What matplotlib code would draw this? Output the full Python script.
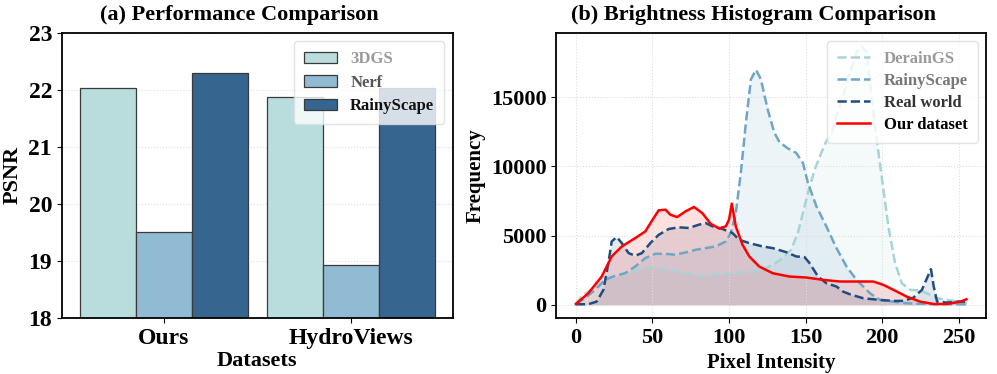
import matplotlib
matplotlib.use("Agg")
import matplotlib.pyplot as plt
import numpy as np

plt.rcParams['font.family'] = ['Liberation Serif', 'DejaVu Serif']
plt.rcParams['font.weight'] = 'bold'
plt.rcParams['axes.labelweight'] = 'bold'
plt.rcParams['axes.titleweight'] = 'bold'

# ---- (a) bar data ----
datasets = ['Ours', 'HydroViews']
methods = ['3DGS', 'Nerf', 'RainyScape']
psnr_3dgs = [22.03, 21.87]
psnr_nerf = [19.50, 18.93]
psnr_rainy = [22.30, 22.03]
bar_colors = ['#b9dcdc', '#91bad3', '#36658f']
bar_text_colors = ['#9a9a9a', '#555555', '#111111']

# ---- (b) histogram curves (pixel intensity, frequency) ----
derain_x = [0, 3.7, 8.1, 14.7, 21.2, 27.8, 34.4, 40.9, 47.5, 54.1, 62.8, 71.6, 80.3, 89.1, 97.9,
            106.6, 115.4, 121.9, 128.5, 135.1, 140.5, 144.9, 148.2, 151.5, 155.9, 160.2, 163.5,
            166.8, 170.1, 174.5, 178.9, 183.2, 186.5, 189.8, 193.1, 196.4, 199.6, 204, 208.4,
            212.8, 218.3, 224.8, 229.2, 235.8, 242.3, 248.8, 255]
derain_y = [70, 600, 960, 1370, 1930, 2100, 2290, 2580, 2700, 2650, 2480, 2290, 2100, 2170, 2240,
            2340, 2410, 2530, 2890, 3380, 3980, 5190, 6630, 8080, 9770, 10970, 11820,
            12300, 13630, 15080, 16760, 18210, 18690, 18210, 15080, 11940, 9290, 5670, 3010,
            1570, 1090, 1040, 840, 480, 360, 240, 120]

rainy_x = [0, 5.9, 12.5, 19, 25.6, 32.2, 38.7, 45.3, 51.9, 58.5, 65, 71.6, 78.2, 84.7, 91.3, 97.9,
           101.1, 104.4, 107.7, 111, 114.3, 117.6, 120.8, 125.2, 129.6, 132.9, 138.4, 143.8,
           148.2, 151.5, 157, 163.5, 170.1, 176.7, 183.2, 192, 198.6, 207.3, 216, 233.6, 255]
rainy_y = [70, 480, 1090, 1810, 2100, 2290, 2770, 3380, 3690, 3690, 3620, 3790, 3980, 4100, 4220, 4580,
           5190, 6630, 9530, 13150, 16280, 16960, 16280, 14110, 12420, 11750, 11290, 10970,
           10250, 8800, 7120, 5670, 4100, 2770, 1810, 840, 360, 240, 120, 50, 50]

real_x = [0, 8, 13.6, 18, 21.2, 23.4, 26.7, 30, 34.4, 38.7, 43.1, 48.6, 54.1, 60.6, 67.2, 73.8,
          80.3, 84.7, 89.1, 95.7, 102.2, 106.6, 113.2, 121.9, 128.5, 137.3, 143.8, 149.3, 152.6,
          158.1, 163.5, 170.1, 174.5, 178.9, 187.6, 198.6, 207.3, 213.9, 220.4, 225.9, 229.2,
          231.8, 233.6, 235.8, 242.3, 248.8, 255]
real_y = [50, 50, 240, 1090, 3000, 4580, 4900, 4460, 3740, 3550, 3740, 4460, 5060, 5480, 5600, 5550,
          5790, 5910, 5670, 5480, 5190, 4700, 4460, 4220, 4100, 3810, 3500, 3450, 3010,
          2050, 1570, 1330, 960, 770, 480, 360, 290, 290, 530, 1090, 1930,
          2580, 1330, 240, 170, 240, 240]

ours_x = [0, 8.1, 16.9, 23.4, 30, 38.7, 45.3, 50.8, 54.1, 58.5, 61.7, 66.1, 71.6, 77.1, 82.5, 88,
          93.5, 97.9, 100, 101.8, 104.4, 108.8, 113.2, 119.7, 128.5, 139.4, 150.4, 161.3, 172.3,
          183.2, 194.2, 200.7, 207.3, 216, 224.8, 233.6, 242.3, 251.1, 255]
ours_y = [70, 840, 2050, 3500, 4220, 4820, 5300, 6270, 6830, 6870, 6510, 6340, 6750, 7070, 6630, 5860,
          5520, 5670, 6150, 7310, 5670, 4340, 3500, 2770, 2290, 2050, 1980, 1810, 1690,
          1690, 1690, 1450, 1090, 600, 240, 70, 70, 240, 410]

curve_names = ['DerainGS', 'RainyScape', 'Real world', 'Our dataset']
curve_colors = ['#a8d4d6', '#6fa6c7', '#1f4e7e', '#ff0000']
curve_text_colors = ['#9a9a9a', '#777777', '#333333', '#000000']

fig = plt.figure(figsize=(9.97, 3.74), dpi=100)
ax1 = fig.add_axes([0.062, 0.150, 0.392, 0.762])
ax2 = fig.add_axes([0.558, 0.150, 0.431, 0.762])

# (a)
x = np.arange(len(datasets))
w = 0.3
for i, vals in enumerate([psnr_3dgs, psnr_nerf, psnr_rainy]):
    ax1.bar(x + (i - 1) * w, vals, w, color=bar_colors[i], edgecolor='#3a3a3a',
            linewidth=0.9, label=methods[i], zorder=2)
ax1.set_ylim(18, 23)
ax1.set_xticks(x)
ax1.set_xticklabels(datasets, fontsize=17)
ax1.tick_params(axis='y', labelsize=17)
ax1.set_xlabel('Datasets', fontsize=16, labelpad=2)
ax1.set_ylabel('PSNR', fontsize=16)
ax1.set_title('(a) Performance Comparison', fontsize=16, pad=9, x=0.455)
ax1.yaxis.grid(True, linestyle=':', color='#dddddd', linewidth=0.8, zorder=0)
ax1.set_axisbelow(True)
leg1 = ax1.legend(loc='upper right', fontsize=12, framealpha=0.8, edgecolor='#dddddd',
                  borderpad=0.6, labelspacing=0.45, handlelength=2.0)
for t, c in zip(leg1.get_texts(), bar_text_colors):
    t.set_color(c)
for s in ax1.spines.values():
    s.set_linewidth(1.3)

# (b)
series = [(derain_x, derain_y), (rainy_x, rainy_y), (real_x, real_y), (ours_x, ours_y)]
styles = ['--', '--', '--', '-']
for (sx, sy), name, col, ls in zip(series, curve_names, curve_colors, styles):
    ax2.plot(sx, sy, ls, color=col, linewidth=1.8, label=name)
    ax2.fill_between(sx, sy, 0, color=col, alpha=0.12, linewidth=0)
ax2.set_xticks([0, 50, 100, 150, 200, 250])
ax2.set_yticks([0, 5000, 10000, 15000])
ax2.tick_params(axis='both', labelsize=16)
ax2.set_xlabel('Pixel Intensity', fontsize=15, labelpad=4)
ax2.set_ylabel('Frequency', fontsize=15)
ax2.set_title('(b) Brightness Histogram Comparison', fontsize=16, pad=9, x=0.458)
ax2.grid(True, linestyle=':', color='#dddddd', linewidth=0.8)
leg2 = ax2.legend(loc='upper right', fontsize=12, framealpha=0.8, edgecolor='#dddddd',
                  borderpad=0.6, labelspacing=0.35, handlelength=2.0)
for t, c in zip(leg2.get_texts(), curve_text_colors):
    t.set_color(c)
for s in ax2.spines.values():
    s.set_linewidth(1.3)

fig.savefig('out.png', dpi=100)
